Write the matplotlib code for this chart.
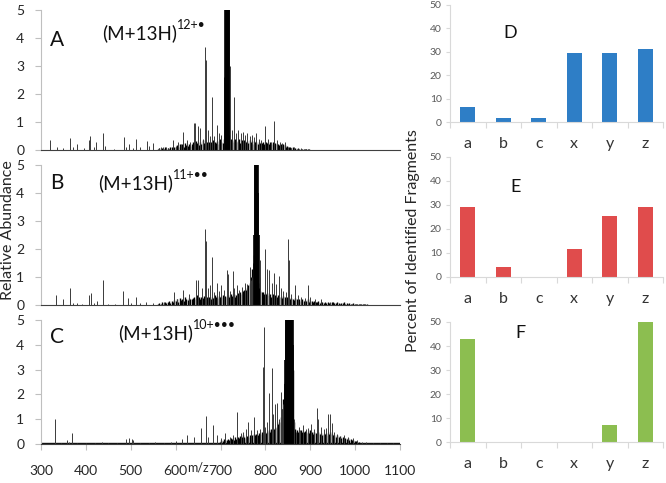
import matplotlib
matplotlib.use('Agg')
import matplotlib.pyplot as plt

plt.rcParams['font.family'] = ['Lato', 'DejaVu Sans']

# ---------------- data ----------------
# Spectrum A : (M+13H)12+.
A_mz = [321, 336, 348, 364, 372, 380, 395, 406, 410, 418, 423, 438, 442, 462, 484, 490, 495, 505,
        512, 520, 536, 540, 550, 562, 568, 572, 578, 582, 595, 600, 606, 612, 616, 625, 632, 640,
        644, 650, 655, 660, 666, 667, 672, 676, 682, 686, 692, 697, 702, 707, 709, 721, 725, 731,
        735, 740, 745, 750, 755, 760, 765, 770, 775, 780, 786, 790, 800, 805, 812, 820, 826, 832,
        838, 844, 850, 858, 864, 872, 880, 890]
A_int = [0.35, 0.12, 0.08, 0.42, 0.1, 0.2, 0.08, 0.35, 0.5, 0.1, 0.3, 0.6, 0.15, 0.05, 0.45, 0.1, 0.2, 0.08,
         0.38, 0.1, 0.32, 0.15, 0.25, 0.08, 0.12, 0.12, 0.1, 0.08, 0.35, 0.15, 0.3, 0.2, 0.65, 0.35, 0.3, 0.95,
         0.95, 0.85, 0.8, 0.4, 3.69, 3.2, 0.7, 0.5, 1.9, 0.5, 0.9, 0.6, 0.55, 2.6, 2.4, 3.0, 0.7, 1.9,
         0.6, 0.7, 0.6, 0.65, 0.55, 0.6, 0.5, 0.55, 0.45, 0.6, 0.4, 0.35, 0.85, 0.4, 0.3, 1.05, 0.35, 0.3,
         0.25, 0.3, 0.12, 0.08, 0.1, 0.05, 0.06, 0.04]
A_prec_mz = [711, 712, 713, 714, 715, 716, 717, 718, 719]
A_prec_int = [30, 30, 30, 30, 30, 30, 30, 30, 30]
A_grass_mz = [561, 564, 567, 570, 573, 576, 579, 582, 585, 588, 591, 594, 597,
              600, 603, 606, 609, 612, 615, 618, 621, 624, 627, 630, 633, 636,
              639, 642, 645, 648, 651, 654, 657, 660, 663, 666, 669, 672, 675,
              678, 681, 684, 687, 690, 693, 696, 699, 702, 705, 708, 711, 714,
              717, 720, 723, 726, 729, 732, 735, 738, 741, 744, 747, 750, 753,
              756, 759, 762, 765, 768, 771, 774, 777, 780, 783, 786, 789, 792,
              795, 798, 801, 804, 807, 810, 813, 816, 819, 822, 825, 828, 831,
              834, 837, 840, 843, 846, 849, 852, 855, 858, 861, 864, 867, 870,
              873, 876, 879, 882, 885, 888, 891, 894, 897]
A_grass_int = [0.04, 0.06, 0.03, 0.08, 0.05, 0.1, 0.04, 0.07, 0.05, 0.09, 0.12, 0.06, 0.1,
               0.12, 0.18, 0.1, 0.22, 0.15, 0.2, 0.12, 0.25, 0.18, 0.14, 0.22, 0.16, 0.2,
               0.28, 0.2, 0.32, 0.25, 0.18, 0.3, 0.22, 0.35, 0.26, 0.2, 0.3, 0.24, 0.28,
               0.3, 0.22, 0.35, 0.28, 0.25, 0.32, 0.2, 0.38, 0.3, 0.26, 0.4, 0.6, 0.8,
               0.9, 0.55, 0.4, 0.35, 0.3, 0.38, 0.28, 0.33, 0.4, 0.25, 0.36, 0.3, 0.34,
               0.28, 0.32, 0.25, 0.35, 0.3, 0.22, 0.33, 0.27, 0.3, 0.2, 0.28, 0.24, 0.26,
               0.3, 0.22, 0.28, 0.25, 0.2, 0.27, 0.22, 0.3, 0.18, 0.24, 0.2, 0.22, 0.17,
               0.2, 0.15, 0.22, 0.18, 0.12, 0.14, 0.1, 0.12, 0.08, 0.1, 0.06, 0.08, 0.05,
               0.06, 0.04, 0.05, 0.03, 0.04, 0.02, 0.03, 0.02, 0.02]

# Spectrum B : (M+13H)11+..
B_mz = [334, 348, 364, 372, 380, 392, 406, 411, 418, 425, 438, 450, 465, 483, 494, 500, 512, 520,
        535, 550, 573, 597, 604, 616, 630, 645, 650, 658, 666, 667, 672, 676, 682, 686, 692, 697,
        702, 708, 714, 716, 722, 727, 731, 737, 742, 748, 754, 760, 765, 768, 771, 773, 787, 789,
        800, 803, 809, 814, 820, 824, 830, 835, 840, 845, 850, 852, 858, 866, 872, 880, 888, 896,
        900, 910, 925, 945]
B_int = [0.36, 0.2, 0.6, 0.08, 0.06, 0.05, 0.35, 0.42, 0.08, 0.15, 0.88, 0.05, 0.04, 0.5, 0.25, 0.06, 0.28, 0.06,
         0.12, 0.06, 0.1, 0.45, 0.2, 0.55, 0.4, 0.88, 0.88, 0.6, 2.7, 2.3, 0.6, 0.7, 1.7, 0.45, 0.8, 0.5,
         0.7, 0.55, 1.25, 1.1, 0.5, 1.23, 0.6, 0.7, 0.55, 0.65, 0.8, 0.75, 1.37, 0.9, 1.0, 1.5, 1.6, 1.0,
         2.0, 1.3, 1.25, 0.8, 1.15, 0.75, 1.05, 0.6, 0.5, 0.45, 2.35, 1.6, 0.4, 0.7, 0.35, 0.3, 0.25, 0.72,
         0.3, 0.2, 0.2, 0.12]
B_prec_mz = [775, 776, 777, 778, 779, 780, 781, 782, 783, 784, 785]
B_prec_int = [2.5, 30, 30, 30, 30, 30, 30, 30, 30, 4.0, 2.5]
B_grass_mz = [561, 564, 567, 570, 573, 576, 579, 582, 585, 588, 591, 594, 597,
              600, 603, 606, 609, 612, 615, 618, 621, 624, 627, 630, 633, 636,
              639, 642, 645, 648, 651, 654, 657, 660, 663, 666, 669, 672, 675,
              678, 681, 684, 687, 690, 693, 696, 699, 702, 705, 708, 711, 714,
              717, 720, 723, 726, 729, 732, 735, 738, 741, 744, 747, 750, 753,
              756, 759, 762, 765, 768, 771, 774, 777, 780, 783, 786, 789, 792,
              795, 798, 801, 804, 807, 810, 813, 816, 819, 822, 825, 828, 831,
              834, 837, 840, 843, 846, 849, 852, 855, 858, 861, 864, 867, 870,
              873, 876, 879, 882, 885, 888, 891, 894, 897, 900, 903, 906, 909,
              912, 915, 918, 921, 924, 927, 930, 933, 936, 939, 942, 945, 948,
              951, 954, 957, 960, 963, 966, 969, 972, 975, 978, 981, 984, 987,
              990, 993, 996, 999, 1002, 1005, 1008, 1011, 1014, 1017, 1020, 1023, 1026]
B_grass_int = [0.05, 0.08, 0.04, 0.1, 0.06, 0.12, 0.08, 0.1, 0.14, 0.08, 0.15, 0.1, 0.18,
               0.15, 0.2, 0.12, 0.25, 0.18, 0.22, 0.15, 0.3, 0.2, 0.18, 0.25, 0.2, 0.22,
               0.25, 0.3, 0.2, 0.35, 0.28, 0.22, 0.3, 0.25, 0.32, 0.2, 0.28, 0.25, 0.3,
               0.22, 0.3, 0.26, 0.35, 0.28, 0.24, 0.32, 0.27, 0.3, 0.35, 0.28, 0.33, 0.3,
               0.36, 0.3, 0.4, 0.32, 0.38, 0.3, 0.35, 0.42, 0.38, 0.45, 0.4, 0.5, 0.55,
               0.55, 0.6, 0.7, 0.8, 1.0, 1.3, 1.8, 1.5, 1.0, 0.8, 0.6, 0.5, 0.45,
               0.45, 0.4, 0.38, 0.42, 0.35, 0.4, 0.3, 0.38, 0.33, 0.36, 0.3, 0.34, 0.28,
               0.3, 0.25, 0.32, 0.28, 0.22, 0.3, 0.25, 0.2, 0.26, 0.22, 0.18, 0.24, 0.2,
               0.18, 0.22, 0.15, 0.2, 0.16, 0.18, 0.14, 0.2, 0.12, 0.16, 0.14, 0.1, 0.15,
               0.12, 0.1, 0.14, 0.08, 0.12, 0.1, 0.08, 0.12, 0.07, 0.1, 0.08, 0.06, 0.09,
               0.1, 0.06, 0.08, 0.12, 0.07, 0.05, 0.08, 0.06, 0.1, 0.05, 0.06, 0.04, 0.07,
               0.05, 0.04, 0.06, 0.03, 0.05, 0.04, 0.03, 0.05, 0.03, 0.04, 0.02, 0.03, 0.02]

# Spectrum C : (M+13H)10+...
C_mz = [331, 345, 357, 362, 370, 380, 400, 420, 435, 450, 470, 490, 496, 502, 506, 520, 540, 555,
        575, 590, 600, 614, 626, 641, 656, 668, 672, 684, 692, 700, 710, 722, 728, 737, 745, 751,
        757, 762, 768, 774, 782, 788, 794, 796, 800, 803, 809, 814, 818, 822, 826, 830, 835, 838,
        840, 842, 843, 844, 862, 864, 868, 874, 878, 884, 890, 896, 902, 908, 914, 918, 924, 930,
        936, 940, 944, 948, 952, 960, 966, 975, 985, 995, 1005, 1015, 1025, 1040, 1055, 1070, 1085]
C_int = [1.0, 0.06, 0.15, 0.1, 0.44, 0.05, 0.04, 0.05, 0.1, 0.04, 0.06, 0.2, 0.25, 0.22, 0.18, 0.05, 0.06, 0.08,
         0.06, 0.1, 0.12, 0.2, 0.35, 0.3, 0.65, 1.13, 0.3, 0.78, 0.35, 0.25, 0.45, 0.3, 0.35, 1.28, 0.45, 0.5,
         0.6, 0.88, 0.55, 1.1, 0.55, 0.6, 3.1, 4.72, 0.7, 0.9, 2.05, 3.05, 1.2, 1.6, 1.65, 1.0, 2.1, 1.4,
         1.6, 2.1, 2.6, 3.5, 3.0, 1.0, 0.5, 0.7, 0.55, 0.75, 0.6, 0.65, 0.8, 0.6, 1.45, 1.0, 0.7, 0.6,
         0.65, 1.2, 1.2, 0.85, 0.5, 0.4, 0.3, 0.35, 0.3, 0.25, 0.15, 0.1, 0.08, 0.06, 0.05, 0.04, 0.04]
C_prec_mz = [843, 844, 845, 846, 847, 848, 849, 850, 851, 852, 853, 854, 855, 856, 857, 858, 859, 860, 861, 862]
C_prec_int = [2.4, 3.4, 4.6, 30, 30, 30, 30, 30, 30, 30, 30, 30, 30, 30, 30, 30, 30, 30, 30, 4.0]
C_grass_mz = [699, 702, 705, 708, 711, 714, 717, 720, 723, 726, 729, 732, 735,
              738, 741, 744, 747, 750, 753, 756, 759, 762, 765, 768, 771, 774,
              777, 780, 783, 786, 789, 792, 795, 798, 801, 804, 807, 810, 813,
              816, 819, 822, 825, 828, 831, 834, 837, 840, 843, 846, 849, 852,
              855, 858, 861, 864, 867, 870, 873, 876, 879, 882, 885, 888, 891,
              894, 897, 900, 903, 906, 909, 912, 915, 918, 921, 924, 927, 930,
              933, 936, 939, 942, 945, 948, 951, 954, 957, 960, 963, 966, 969,
              972, 975, 978, 981, 984, 987, 990, 993, 996, 999, 1002, 1005, 1008]
C_grass_int = [0.1, 0.15, 0.12, 0.2, 0.15, 0.18, 0.22, 0.16, 0.25, 0.2, 0.18, 0.28, 0.22,
               0.3, 0.25, 0.32, 0.28, 0.35, 0.3, 0.26, 0.33, 0.3, 0.38, 0.32, 0.35, 0.4,
               0.35, 0.42, 0.38, 0.45, 0.4, 0.5, 0.42, 0.48, 0.45, 0.5, 0.55, 0.48, 0.6,
               0.55, 0.6, 0.65, 0.7, 0.8, 0.9, 1.1, 1.4, 1.8, 2.5, 3.0, 3.0, 3.0,
               3.0, 3.0, 3.0, 0.9, 0.6, 0.55, 0.5, 0.45, 0.55, 0.5, 0.48, 0.52, 0.45,
               0.5, 0.45, 0.55, 0.48, 0.42, 0.5, 0.45, 0.4, 0.48, 0.42, 0.45, 0.38, 0.42,
               0.4, 0.45, 0.38, 0.42, 0.5, 0.4, 0.35, 0.38, 0.3, 0.35, 0.28, 0.32, 0.25,
               0.28, 0.22, 0.25, 0.2, 0.24, 0.18, 0.2, 0.15, 0.18, 0.12, 0.14, 0.1, 0.08]
C_baseline = 0.05

spec_letters = ['A', 'B', 'C']
spec_charge = ['12+\u2022', '11+\u2022\u2022', '10+\u2022\u2022\u2022']
mz_ticks = [300, 400, 500, 600, 700, 800, 900, 1000, 1100]
abund_ticks = [0, 1, 2, 3, 4, 5]

# Fragment-type bar charts
frag_types = ['a', 'b', 'c', 'x', 'y', 'z']
D_pct = [6.5, 1.5, 1.5, 29.5, 29.5, 31.0]
E_pct = [29.3, 4.0, 0.0, 11.8, 25.5, 29.3]
F_pct = [42.8, 0.0, 0.0, 0.0, 7.0, 50.0]
bar_letters = ['D', 'E', 'F']
pct_ticks = [0, 10, 20, 30, 40, 50]

# ---------------- figure ----------------
W, H = 666, 483
fig = plt.figure(figsize=(W / 100, H / 100), dpi=100)


def rect(l, t, r, b):
    return [l / W, 1 - b / H, (r - l) / W, (b - t) / H]


def fx(x):
    return x / W


def fy(y):
    return 1 - y / H


spec_rects = [rect(41, 10, 400, 150), rect(41, 165, 400, 305), rect(41, 320, 400, 444)]
spec_data = [
    (A_mz, A_int, A_prec_mz, A_prec_int, A_grass_mz, A_grass_int),
    (B_mz, B_int, B_prec_mz, B_prec_int, B_grass_mz, B_grass_int),
    (C_mz, C_int, C_prec_mz, C_prec_int, C_grass_mz, C_grass_int),
]
letter_pos = [(57, 40), (57, 183), (57, 337)]
prec_pos = [(102, 33), (98, 183), (118, 333)]

renderer = fig.canvas.get_renderer()

for i, (r, d) in enumerate(zip(spec_rects, spec_data)):
    ax = fig.add_axes(r)
    mz, inten, pmz, pint, gmz, gint = d
    if i == 2:
        ax.axhline(C_baseline, color='#111111', lw=1.0, zorder=1)
    ax.vlines(gmz, 0, gint, color='#000000', lw=1.0)
    ax.vlines(mz, 0, inten, color='#3a3a3a', lw=0.7)
    ax.vlines(pmz, 0, pint, color='#000000', lw=1.2)
    ax.set_xlim(300, 1100)
    ax.set_ylim(0, 5)
    ax.set_yticks(abund_ticks)
    for s in ['top', 'right']:
        ax.spines[s].set_visible(False)
    ax.spines['left'].set_color('#bfbfbf')
    ax.spines['bottom'].set_color('#404040')
    ax.spines['bottom'].set_linewidth(0.8)
    ax.tick_params(axis='y', labelsize=10, colors='#bfbfbf', labelcolor='#262626',
                   length=4, width=0.8, pad=8)
    if i == 2:
        ax.set_xticks(mz_ticks)
        ax.tick_params(axis='x', labelsize=10, colors='#bfbfbf', labelcolor='#262626',
                       length=4, width=0.8, pad=11)
    else:
        ax.set_xticks([])
    ax.patch.set_alpha(0)

    fig.text(fx(letter_pos[i][0]), fy(letter_pos[i][1]), spec_letters[i], fontsize=15,
             ha='center', va='center', color='#111111')
    t = fig.text(fx(prec_pos[i][0]), fy(prec_pos[i][1]), '(M+13H)', fontsize=13.5,
                 ha='left', va='center', color='#111111')
    bb = t.get_window_extent(renderer)
    fig.text(bb.x1 / W + 0.0005, fy(prec_pos[i][1] - 8), spec_charge[i], fontsize=9,
             ha='left', va='center', color='#111111')

fig.text(fx(8), fy(230), 'Relative Abundance', rotation=90, fontsize=11.5,
         ha='center', va='center', color='#262626')
fig.text(fx(198), fy(468), 'm/z', fontsize=9, ha='center', va='center', color='#262626')

bar_rects = [rect(450, 5, 663, 122), rect(450, 157, 663, 277), rect(450, 322, 663, 442)]
bar_vals = [D_pct, E_pct, F_pct]
bar_colors = ['#2E7EC6', '#E04C4C', '#8CBE50']
bar_letter_pos = [(510, 33), (516, 187), (520, 333)]

for i, r in enumerate(bar_rects):
    ax = fig.add_axes(r)
    ax.bar(range(len(frag_types)), bar_vals[i], width=0.43, color=bar_colors[i])
    ax.set_xlim(-0.5, len(frag_types) - 0.5)
    ax.set_ylim(0, 50)
    ax.set_yticks(pct_ticks)
    ax.set_xticks(range(len(frag_types)))
    ax.set_xticklabels(frag_types)
    ax.set_xticks([k - 0.5 for k in range(len(frag_types) + 1)], minor=True)
    for s in ['top', 'right']:
        ax.spines[s].set_visible(False)
    ax.spines['left'].set_color('#d9d9d9')
    ax.spines['bottom'].set_color('#d9d9d9')
    ax.tick_params(axis='x', which='major', length=0, pad=11, labelsize=11.5, labelcolor='#333333')
    ax.tick_params(axis='x', which='minor', length=4, width=0.8, color='#d9d9d9')
    ax.tick_params(axis='y', length=3, width=0.8, color='#d9d9d9', labelsize=7.5,
                   labelcolor='#595959', pad=3)
    ax.patch.set_alpha(0)
    fig.text(fx(bar_letter_pos[i][0]), fy(bar_letter_pos[i][1]), bar_letters[i], fontsize=13,
             ha='center', va='center', color='#111111')

fig.text(fx(413), fy(241), 'Percent of Identified Fragments', rotation=90, fontsize=11.5,
         ha='center', va='center', color='#262626')

fig.savefig('out.png', dpi=100)
